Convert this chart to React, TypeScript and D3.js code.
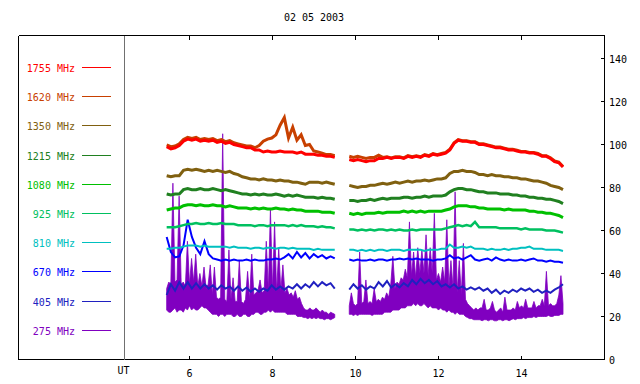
import React from 'react';
import * as d3 from 'd3';

// --- chart data ---
const chartTitle = '02 05 2003';
const freqLabels = ['1755 MHz', '1620 MHz', '1350 MHz', '1215 MHz', '1080 MHz', '925 MHz', '810 MHz', '670 MHz', '405 MHz', '275 MHz'];
const freqColors = ['#ff0000', '#c84000', '#806010', '#208020', '#00c000', '#00c060', '#00c0c0', '#0000ff', '#2020c0', '#8000c0'];
const hourTicks = [6, 8, 10, 12, 14];
const fluxTicks = [0, 20, 40, 60, 80, 100, 120, 140];

// observing windows (hours UT): morning run and afternoon run
const spanA = [5.45, 9.5];
const spanB = [9.85, 15.0];

const f1755A = [99, 98, 98.5, 99.5, 101.5, 102.5, 102, 102.5, 101.5, 102, 101.5, 102, 101, 101.5, 100.5, 101, 100, 99.5, 99, 98.5, 98.5, 97.5, 97.5, 96.5, 97, 96.5, 96.5, 97, 96.5, 96.5, 96.5, 96, 96.5, 95.5, 95.5, 95.5, 95, 95, 94.5, 94.5, 94];
const f1755B = [93, 92.5, 93, 92.5, 92, 92.5, 92.5, 93.5, 93.5, 94, 93.5, 94, 94, 93.5, 94.5, 94, 94.5, 94, 95, 94.5, 95.5, 95, 95.5, 96, 97.5, 100.5, 102, 101.5, 101.5, 101, 101, 100, 100, 99.5, 99, 98.5, 98.5, 98, 97.5, 97.5, 97, 96.5, 96.5, 96, 96, 95.5, 94.5, 94.5, 93.5, 92, 91.5, 89.5];

const f1620A = [99.8, 99, 99.3, 100.3, 102.3, 103.3, 102.8, 103.3, 102.3, 102.8, 102.3, 102.8, 101.8, 102.3, 101.3, 101.8, 100.8, 100.3, 99.8, 99.3, 99.3, 98.5, 99.5, 101.5, 102.5, 103, 104.5, 109, 112.5, 103, 108, 102, 104.5, 99.5, 100, 97, 96.5, 96, 95.3, 95.3, 94.8];
const f1620B = [94.5, 94, 94.5, 94, 93.5, 94, 94, 95, 94, 94.3, 93.8, 94.3, 94.3, 93.8, 94.8, 94.3, 94.8, 94.3, 95.3, 94.8, 95.8, 95.3, 95.8, 96.3, 97.8, 100.8, 102.3, 101.8, 101.8, 101.3, 101.3, 100.3, 100.3, 99.8, 99.3, 98.8, 98.8, 98.3, 97.8, 97.8, 97.3, 96.8, 96.8, 96.3, 96.3, 95.8, 94.8, 94.8, 93.8, 92.3, 91.8, 89.8];

const f1350A = [85.5, 85, 85.5, 85.5, 88, 88.5, 88, 88.5, 88, 87.5, 88, 87.5, 88, 87.5, 87, 87.5, 86.5, 86, 85, 84.5, 84, 84, 83.5, 84, 83.5, 83.5, 83, 83.5, 83, 83, 82.5, 82.5, 82, 81.5, 82.5, 82.5, 82.5, 82, 82.5, 82, 81.5];
const f1350B = [81, 80.5, 80, 80.5, 80.5, 81, 81, 81.5, 82, 81.5, 82, 82.5, 82, 82.5, 83, 82.5, 83, 83, 83.5, 83, 83.5, 84, 84, 84.5, 86.5, 87.5, 87.5, 88, 87.5, 87.5, 87, 86, 86, 85.5, 86, 85.5, 85.5, 85, 85, 84.5, 84.5, 84, 84, 83.5, 83, 83, 82.5, 82, 81, 80.5, 80, 79];

const f1215A = [77, 76.5, 77, 77, 79, 79.5, 79, 79, 79.5, 79, 79, 79.5, 79, 78.5, 79, 78.5, 78, 77.5, 77, 77, 76.5, 77, 76.5, 77, 76.5, 76.5, 77, 76.5, 76, 76.5, 76, 76.5, 76, 75.5, 75.5, 75.5, 75, 75.5, 75, 75, 74.5];
const f1215B = [74, 74, 73.5, 74, 74, 74.5, 74, 74.5, 75, 74.5, 75, 75, 75, 75.5, 75.5, 75, 75.5, 75.5, 76, 75.5, 76, 76, 76, 76.5, 78, 79, 79.5, 79.5, 79, 79, 78.5, 78, 78, 77.5, 77.5, 77.5, 77, 77, 77, 76.5, 76.5, 76, 76, 75.5, 75.5, 75, 75, 74.5, 74.5, 74, 73.5, 72.5];

const f1080A = [69.5, 70, 70.5, 70.5, 71.5, 72, 72, 71.5, 72, 71.5, 71.5, 72, 71.5, 71.5, 71, 71.5, 71, 70.5, 70.5, 70.5, 70, 70.5, 70, 70.5, 70, 70, 70.5, 70, 70, 69.5, 70, 69.5, 69.5, 69, 69, 69, 69, 68.5, 68.5, 68.5, 68];
const f1080B = [68, 67.5, 68, 67.5, 68, 68, 68, 68.5, 68, 68.5, 68.5, 68.5, 68.5, 69, 68.5, 69, 68.5, 69, 68.5, 69, 69, 69, 69, 69.5, 70, 71, 71.5, 71.5, 71.5, 71, 71, 70.5, 70.5, 70, 70, 70, 70, 69.5, 70, 69.5, 69.5, 69.5, 69.5, 69, 69, 68.5, 68.5, 68, 68, 67.5, 67, 66];

const f925A = [61.5, 61.5, 61.5, 62, 62.5, 63, 63, 63.5, 63, 63, 63.5, 63, 63, 63.5, 63, 63, 63, 62.5, 62.5, 62.5, 62.5, 62, 62.5, 62.5, 62, 62.5, 62.5, 62.5, 62.5, 62, 62.5, 62, 62.5, 62, 62, 62, 61.5, 62, 61.5, 61.5, 61];
const f925B = [60.5, 60.5, 60, 60.5, 60, 60.5, 60, 60.5, 60.5, 60, 60.5, 60, 60.5, 60, 60, 60.5, 60, 60.5, 60.5, 60.5, 60.5, 60.5, 60.5, 61, 61.5, 62, 62.5, 62, 62.5, 62, 64, 61.5, 61.5, 61.5, 61.5, 61.5, 61, 61, 61, 61, 61, 60.5, 61, 60.5, 60.5, 60.5, 60.5, 60, 60, 60, 59.5, 59];

const f810A = [51.5, 51.5, 52, 52, 52.5, 53, 53, 53, 52.5, 53, 52.5, 52.5, 52.5, 52.5, 52.5, 52, 52.5, 52, 52, 52, 51.5, 52, 52, 51.5, 52, 52, 51.5, 52, 52, 51.5, 52, 51.5, 51.5, 51.5, 51.5, 51, 51.5, 51, 51, 51, 51];
const f810B = [51, 51, 50.5, 51, 50.5, 51, 50.5, 51, 51, 50.5, 51, 51, 51, 50.5, 51, 51, 51, 51, 50.5, 51, 51, 51, 51.5, 51.5, 53.5, 52, 52, 52.5, 52, 52.5, 51.5, 51.5, 51.5, 51, 51.5, 51, 51, 51.5, 51, 51.5, 51.5, 52, 52, 52.5, 51.5, 51.5, 51.5, 51, 51, 51, 51, 50.5];

const f670A = [57, 50, 47.5, 48, 53, 65, 57, 52, 49, 55, 49, 47, 46.5, 46, 46.5, 46, 46.5, 46, 46, 46.5, 46, 46.5, 46, 46, 46.5, 46.5, 47, 46.5, 47.5, 49, 47, 50, 47.5, 49.5, 47, 49, 47.5, 48.5, 47, 48, 47];
const f670B = [46.5, 46, 46.5, 46, 46, 46.5, 46, 46.5, 46.5, 46, 46.5, 46.5, 47, 46.5, 47, 46.5, 47, 46.5, 46.5, 46.5, 46, 46.5, 46.5, 47, 48.5, 47, 47.5, 46.5, 47.5, 48.5, 46.5, 46, 46.5, 47, 46, 47.5, 46.5, 46, 46.5, 46, 46, 46.5, 46, 46.5, 47, 46, 46, 45.5, 46, 45.5, 45.5, 45];

const f405A = [30, 35, 32, 36, 33, 36, 33, 35.5, 33, 35, 33, 34.5, 32.5, 34.5, 33, 34, 32, 34, 32, 33.5, 31.5, 33, 31.5, 33, 32, 34.5, 32.5, 34, 32.5, 34, 33, 35, 33, 35, 33.5, 36, 34, 36, 34.5, 35.5, 33];
const f405B = [32.5, 35, 33, 34.5, 32.5, 34, 33, 36, 34, 36.5, 33.5, 35, 33.5, 35.5, 34, 37, 35, 37.5, 35.5, 37, 35, 36.5, 34, 35, 33.5, 35, 33, 34, 32.5, 33.5, 32.5, 33.5, 32, 33, 31, 32.5, 30.5, 32, 31, 32.5, 31.5, 33, 32, 33, 31.5, 32.5, 31, 32, 31, 32.5, 33.5, 35];

// 275 MHz is bursty: kept as min / max per sample bin, twice as dense
const f275LoA = [23, 22, 22, 23, 24, 22, 23, 23, 22, 24, 23, 25, 23, 24, 23, 23, 24, 25, 24, 24, 23, 22, 21, 21, 21, 20, 21, 21, 20, 21, 21, 21, 20, 20, 21, 20, 20, 21, 21, 20, 20, 21, 21, 22, 22, 21, 21, 22, 22, 23, 22, 23, 22, 22, 22, 22, 22, 22, 21, 21, 21, 21, 21, 20, 20, 20, 19.5, 19.5, 19, 19.5, 19, 19.5, 19, 19.5, 19, 19, 18.5, 19, 19, 18.5, 19, 19.5];
const f275HiA = [33, 36, 35, 82, 36, 37, 76, 35, 36, 34, 55, 35, 47, 36, 49, 34, 40, 34, 43, 33, 35, 44, 30, 43, 29, 28, 29, 105, 28, 27, 51, 28, 38, 27, 27, 46, 27, 26, 28, 41, 28, 49, 30, 31, 32, 37, 31, 32, 55, 32, 70, 32, 64, 31, 52, 32, 44, 31, 33, 30, 31, 29, 32, 28, 29, 26, 24, 23, 23, 24, 23, 23, 24, 23, 22, 23, 22, 22, 21, 22, 21.5, 21];
const f275LoB = [21, 21, 20.5, 21, 20.5, 21, 21, 21, 21, 21, 21, 20.5, 21, 21, 21, 21, 21, 22, 22, 22, 22, 23, 23, 23, 23, 24, 24, 24, 25, 25, 25, 26, 25, 26, 25, 25, 26, 25, 24, 25, 24, 24, 24, 23, 24, 23, 23, 22, 23, 22, 22, 21, 22, 21, 21, 21, 20, 19.5, 19, 19, 18.5, 18.5, 18.5, 18.5, 18, 18.5, 18.5, 18, 18.5, 18.5, 18, 18, 18.5, 18.5, 18, 18.5, 18.5, 18, 18.5, 19, 18.5, 19, 19, 19, 19.5, 19, 19.5, 19.5, 19.5, 20, 19.5, 20, 20, 20, 20, 20, 20.5, 20, 20, 20.5, 20.5, 20.5, 21, 21];
const f275HiB = [25, 31, 26, 25, 26, 50, 26, 27, 37, 26, 27, 26, 33, 27, 28, 27, 29, 28, 31, 29, 35, 48, 33, 36, 35, 38, 37, 42, 38, 64, 39, 50, 38, 52, 40, 51, 40, 58, 39, 52, 40, 68, 37, 40, 36, 43, 36, 65, 34, 46, 33, 78, 31, 46, 30, 54, 28, 26, 25, 24, 23, 24, 23, 24, 24, 28, 23, 23, 24, 27, 23, 22, 23, 24, 22, 29, 23, 23, 23, 24, 23, 27, 24, 25, 24, 28, 24, 24, 24, 27, 24, 25, 25, 28, 25, 41, 25, 26, 25, 25, 26, 30, 39, 26];

const segA = [f1755A, f1620A, f1350A, f1215A, f1080A, f925A, f810A, f670A, f405A];
const segB = [f1755B, f1620B, f1350B, f1215B, f1080B, f925B, f810B, f670B, f405B];
const strokeW = [3, 3, 3, 3, 3, 2.5, 2, 2, 2];
// paint order: 275 band first, then low to high so 1755 MHz ends on top
const drawOrder = [8, 7, 6, 5, 4, 3, 2, 1, 0];

// sample times spread evenly over a run
const sampleTimes = (span: number[], n: number) =>
  d3.range(n).map(i => span[0] + ((span[1] - span[0]) * i) / (n - 1));

const mono = '"DejaVu Sans Mono", monospace';

export default function App() {
  const left = 18.5, right = 604.5, top = 35.5, bottom = 359.5;
  const utLine = 124.5;

  const x = d3.scaleLinear().domain([6, 14]).range([189.5, 521.5]);
  const y = d3.scaleLinear().domain([0, 140]).range([359.5, 58.5]);

  const line = d3.line<[number, number]>()
    .x(d => x(d[0]))
    .y(d => y(d[1]));

  const band = d3.area<[number, number, number]>()
    .x(d => x(d[0]))
    .y0(d => y(d[1]))
    .y1(d => y(d[2]));

  const toPath = (vals: number[], span: number[]) => {
    const ts = sampleTimes(span, vals.length);
    return line(vals.map((v, i) => [ts[i], v] as [number, number])) || '';
  };

  const toBand = (lo: number[], hi: number[], span: number[]) => {
    const ts = sampleTimes(span, lo.length);
    return band(lo.map((v, i) => [ts[i], v, hi[i]] as [number, number, number])) || '';
  };

  const legendY = (i: number) => Math.round(67 + i * 29.2) + 0.5;
  const purple = freqColors[9];

  return (
    <svg width={640} height={384} style={{ position: 'absolute', left: 0, top: 0, background: '#fff' }}>
      <rect x={0} y={0} width={640} height={384} fill="#fff" />

      <text x={314} y={21} fontFamily={mono} fontSize={10} textAnchor="middle" fill="#000">{chartTitle}</text>

      {/* data */}
      <g fill={purple} stroke={purple} strokeWidth={0.8}>
        <path d={toBand(f275LoA, f275HiA, spanA)} />
        <path d={toBand(f275LoB, f275HiB, spanB)} />
      </g>
      <g fill="none" strokeLinejoin="miter">
        {drawOrder.map(k => (
          <g key={k} stroke={freqColors[k]} strokeWidth={strokeW[k]}>
            <path d={toPath(segA[k], spanA)} />
            <path d={toPath(segB[k], spanB)} />
          </g>
        ))}
      </g>

      {/* frame */}
      <g stroke="#000" strokeWidth={1} shapeRendering="crispEdges" fill="none">
        <line x1={left} x2={right} y1={top} y2={top} />
        <line x1={left} x2={right} y1={bottom} y2={bottom} />
        <line x1={left} x2={left} y1={top} y2={bottom} />
        <line x1={right} x2={right} y1={top} y2={bottom} />
        {hourTicks.map(h => (
          <g key={h}>
            <line x1={x(h)} x2={x(h)} y1={bottom} y2={bottom - 4} />
            <line x1={x(h)} x2={x(h)} y1={top} y2={top + 4} />
          </g>
        ))}
        {fluxTicks.map(v => (
          <line key={v} x1={right - 4} x2={right} y1={y(v)} y2={y(v)} />
        ))}
      </g>
      <line x1={utLine} x2={utLine} y1={top} y2={bottom} stroke="#707070" shapeRendering="crispEdges" />

      {/* axis labels */}
      <g fontFamily={mono} fontSize={10} fill="#000">
        {hourTicks.map(h => (
          <text key={h} x={x(h)} y={377} textAnchor="middle">{h}</text>
        ))}
        <text x={123.5} y={374} textAnchor="middle">UT</text>
        {fluxTicks.map(v => (
          <text key={v} x={609} y={y(v) + 4}>{v}</text>
        ))}
      </g>

      {/* legend */}
      <g fontFamily={mono} fontSize={10}>
        {freqLabels.map((lab, i) => (
          <g key={lab}>
            <text x={75} y={legendY(i) + 4.5} textAnchor="end" fill={freqColors[i]}>{lab}</text>
            <line x1={82} x2={111} y1={legendY(i)} y2={legendY(i)} stroke={freqColors[i]} shapeRendering="crispEdges" />
          </g>
        ))}
      </g>
    </svg>
  );
}
